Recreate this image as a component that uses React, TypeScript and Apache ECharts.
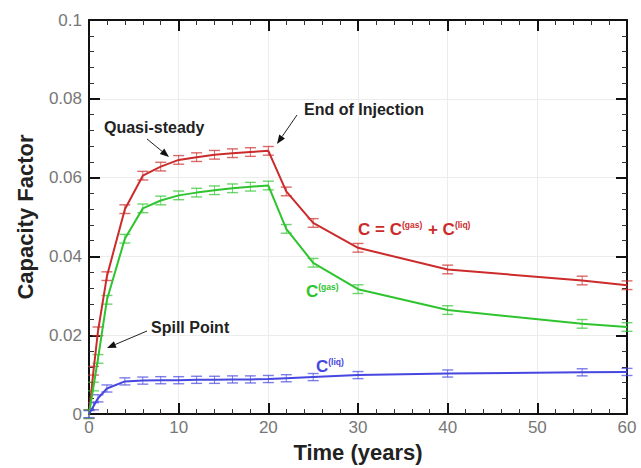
import React, { useEffect, useRef } from "react";
import * as echarts from "echarts";

const times = [0, 0.5, 1, 2, 4, 6, 8, 10, 12, 14, 16, 18, 20, 22, 25, 30, 40, 55, 60];
const totalC = [0, 0.011, 0.021, 0.035, 0.0520, 0.0605, 0.0628, 0.0645, 0.0652, 0.0658, 0.0662, 0.0665, 0.0668, 0.0565, 0.0485, 0.0422, 0.0367, 0.0339, 0.0327];
const gasC = [0, 0.007, 0.014, 0.029, 0.0445, 0.0522, 0.0542, 0.0555, 0.0562, 0.0568, 0.0573, 0.0577, 0.0580, 0.0470, 0.0384, 0.0317, 0.0264, 0.0229, 0.0221];
const liqC = [0, 0.002, 0.004, 0.0065, 0.0083, 0.0085, 0.0086, 0.0086, 0.0087, 0.0087, 0.0088, 0.0088, 0.0089, 0.0091, 0.0094, 0.0099, 0.0103, 0.0106, 0.0107];
const errTotal = 0.0011;
const errGas = 0.0011;
const errLiq = 0.0009;

const RED = "#cc2b2b";
const GREEN = "#2ec42e";
const BLUE = "#4646e0";
const FONT = "Liberation Sans, Arial, sans-serif";

function pairs(vals: number[]) {
  return times.map((t, i) => [t, vals[i]]);
}
function errData(vals: number[], e: number) {
  return times.map((t, i) => [t, vals[i], e]);
}

function errSeries(vals: number[], e: number, color: string) {
  return {
    type: "custom",
    xAxisIndex: 0,
    yAxisIndex: 0,
    data: errData(vals, e),
    z: 3,
    renderItem: (params: any, api: any) => {
      const x = api.value(0);
      const y = api.value(1);
      const d = api.value(2);
      const top = api.coord([x, y + d]);
      const bot = api.coord([x, y - d]);
      const w = 5.5;
      const style = { stroke: color, lineWidth: 1.4, opacity: 0.7 };
      return {
        type: "group",
        children: [
          { type: "line", shape: { x1: top[0], y1: top[1], x2: bot[0], y2: bot[1] }, style: { ...style, lineWidth: 1 } },
          { type: "line", shape: { x1: top[0] - w, y1: top[1], x2: top[0] + w, y2: top[1] }, style },
          { type: "line", shape: { x1: bot[0] - w, y1: bot[1], x2: bot[0] + w, y2: bot[1] }, style },
        ],
      };
    },
  };
}

function lineSeries(vals: number[], color: string) {
  return {
    type: "line",
    xAxisIndex: 0,
    yAxisIndex: 0,
    data: pairs(vals),
    showSymbol: false,
    z: 4,
    lineStyle: { color, width: 2 },
    itemStyle: { color },
  };
}

function arrow(x1: number, y1: number, x2: number, y2: number) {
  const ang = Math.atan2(y2 - y1, x2 - x1);
  const L = 9;
  const W = 3.5;
  const bx = x2 - L * Math.cos(ang);
  const by = y2 - L * Math.sin(ang);
  const px = -Math.sin(ang) * W;
  const py = Math.cos(ang) * W;
  return [
    { type: "line", z: 10, shape: { x1, y1, x2: bx, y2: by }, style: { stroke: "#222", lineWidth: 1 } },
    {
      type: "polygon",
      z: 10,
      shape: { points: [[x2, y2], [bx + px, by + py], [bx - px, by - py]] },
      style: { fill: "#111" },
    },
  ];
}

function richLabel(x: number, y: number, text: string, color: string) {
  return {
    type: "text",
    x,
    y,
    z: 10,
    style: {
      text,
      fill: color,
      fontFamily: FONT,
      rich: {
        b: { fill: color, fontSize: 17, fontWeight: "bold", fontFamily: FONT, verticalAlign: "bottom" },
        s: { fill: color, fontSize: 8.5, fontWeight: "bold", fontFamily: FONT, verticalAlign: "bottom", padding: [0, 1, 9, 0] },
      },
    },
  };
}

function plainLabel(x: number, y: number, text: string) {
  return {
    type: "text",
    x,
    y,
    z: 10,
    style: { text, fill: "#222", fontSize: 16, fontWeight: "bold", fontFamily: FONT },
  };
}

export default function App() {
  const ref = useRef<HTMLDivElement>(null);
  useEffect(() => {
    if (!ref.current) return;
    document.body.style.margin = "0";
    const chart = echarts.init(ref.current, null, { renderer: "svg" });
    const axisLine = { show: true, onZero: false, lineStyle: { color: "#111", width: 2 } };
    const axisTick = { show: true, inside: true, length: 11, lineStyle: { color: "#111", width: 2 } };
    const minorTick = { show: true, splitNumber: 5, length: 5, lineStyle: { color: "#333", width: 1 } };
    const nameStyle = { fontSize: 22, fontWeight: "bold", color: "#222", fontFamily: FONT };
    const labelStyle = { color: "#777", fontSize: 17, fontFamily: FONT };
    chart.setOption({
      animation: false,
      backgroundColor: "#ffffff",
      grid: { left: 89, right: 14, top: 20, bottom: 50 },
      xAxis: [
        {
          type: "value",
          min: 0,
          max: 60,
          interval: 10,
          position: "bottom",
          name: "Time (years)",
          nameLocation: "middle",
          nameGap: 16,
          nameTextStyle: nameStyle,
          axisLine,
          axisTick,
          minorTick,
          axisLabel: { ...labelStyle, margin: 5 },
          splitLine: { show: true, lineStyle: { color: "#ececec", width: 1 } },
        },
        {
          type: "value",
          min: 0,
          max: 60,
          interval: 10,
          position: "top",
          axisLine,
          axisTick,
          minorTick,
          axisLabel: { show: false },
          splitLine: { show: false },
        },
      ],
      yAxis: [
        {
          type: "value",
          min: 0,
          max: 0.1,
          interval: 0.02,
          position: "left",
          name: "Capacity Factor",
          nameLocation: "middle",
          nameGap: 53,
          nameTextStyle: nameStyle,
          axisLine,
          axisTick,
          minorTick,
          axisLabel: { ...labelStyle, margin: 7 },
          splitLine: { show: true, lineStyle: { color: "#ececec", width: 1 } },
        },
        {
          type: "value",
          min: 0,
          max: 0.1,
          interval: 0.02,
          position: "right",
          axisLine,
          axisTick,
          minorTick,
          axisLabel: { show: false },
          splitLine: { show: false },
        },
      ],
      series: [
        errSeries(totalC, errTotal, RED),
        errSeries(gasC, errGas, GREEN),
        errSeries(liqC, errLiq, BLUE),
        lineSeries(totalC, RED),
        lineSeries(gasC, GREEN),
        lineSeries(liqC, BLUE),
      ],
      graphic: [
        plainLabel(104, 119, "Quasi-steady"),
        ...arrow(147, 139, 169, 157),
        plainLabel(304, 101, "End of Injection"),
        ...arrow(297, 115, 277, 144),
        plainLabel(151, 319, "Spill Point"),
        ...arrow(147, 331, 107, 348),
        richLabel(358, 220, "{b|C = C}{s|(gas)}{b| + C}{s|(liq)}", RED),
        richLabel(306, 282, "{b|C}{s|(gas)}", GREEN),
        richLabel(316, 357, "{b|C}{s|(liq)}", BLUE),
      ],
    });
    return () => chart.dispose();
  }, []);
  return <div ref={ref} style={{ width: 641, height: 468 }} />;
}
